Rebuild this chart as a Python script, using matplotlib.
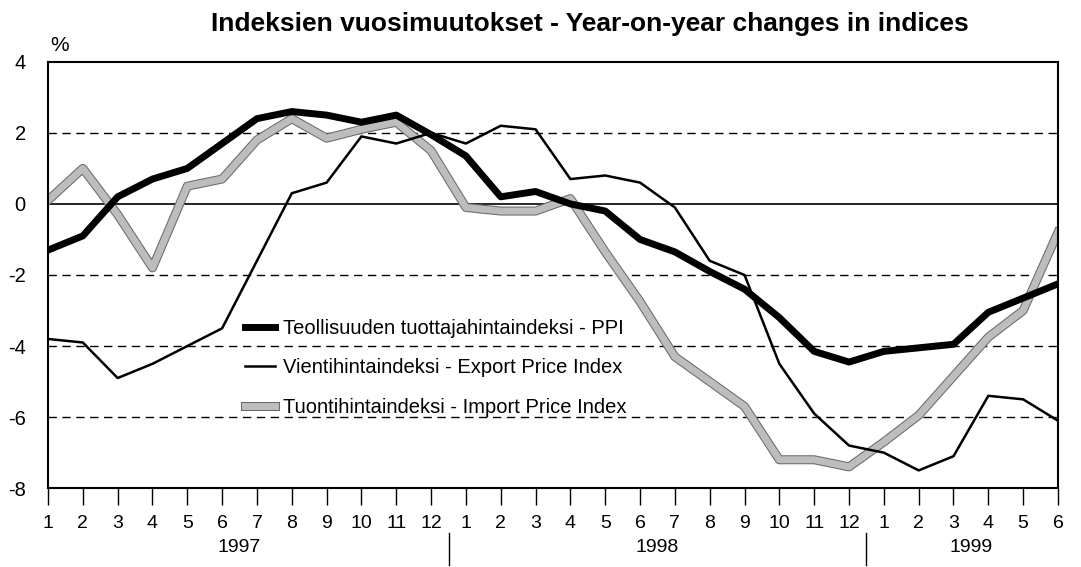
import numpy as np
import matplotlib
matplotlib.use('Agg')
from matplotlib import pyplot as plt
from matplotlib import patheffects as pe

plt.rcParams['font.family'] = ['Liberation Sans', 'DejaVu Sans']
plt.rcParams['axes.unicode_minus'] = False

# monthly data 1997/1 - 1999/6
month_labels = [str(m) for m in range(1, 13)] * 2 + [str(m) for m in range(1, 7)]
years = ['1997', '1998', '1999']
year_months = [12, 12, 6]

ppi = [-1.3, -0.9, 0.2, 0.7, 1.0, 1.7, 2.4, 2.6, 2.5, 2.3, 2.5, 1.95,
       1.35, 0.2, 0.35, 0.0, -0.2, -1.0, -1.35, -1.9, -2.4, -3.2, -4.15, -4.45,
       -4.15, -4.05, -3.95, -3.05, -2.65, -2.25]
export = [-3.8, -3.9, -4.9, -4.5, -4.0, -3.5, -1.6, 0.3, 0.6, 1.9, 1.7, 2.0,
          1.7, 2.2, 2.1, 0.7, 0.8, 0.6, -0.1, -1.6, -2.0, -4.5, -5.9, -6.8,
          -7.0, -7.5, -7.1, -5.4, -5.5, -6.1]
imports = [0.1, 1.0, -0.3, -1.8, 0.5, 0.7, 1.8, 2.4, 1.85, 2.1, 2.3, 1.5,
           -0.1, -0.2, -0.2, 0.15, -1.35, -2.75, -4.3, -5.0, -5.7, -7.2, -7.2, -7.4,
           -6.7, -5.95, -4.85, -3.75, -3.0, -0.8]

labels = ['Teollisuuden tuottajahintaindeksi - PPI',
          'Vientihintaindeksi - Export Price Index',
          'Tuontihintaindeksi - Import Price Index']

x = np.arange(len(month_labels))

fig = plt.figure(figsize=(10.81, 5.67), dpi=100)
ax = fig.add_axes([0.0444, 0.139, 0.9343, 0.752])

for v in [2, -2, -4, -6]:
    ax.axhline(v, color='black', lw=1.0, ls=(0, (6, 4)), zorder=1)
ax.axhline(0, color='black', lw=1.2, zorder=1)

l_imp, = ax.plot(x, imports, color='#bdbdbd', lw=5, zorder=2,
                 path_effects=[pe.Stroke(linewidth=6.5, foreground='#6a6a6a'), pe.Normal()])
l_ppi, = ax.plot(x, ppi, color='black', lw=5, zorder=3)
l_exp, = ax.plot(x, export, color='black', lw=1.8, zorder=4)

ax.set_xlim(x[0], x[-1])
ax.set_ylim(-8, 4)
ax.set_yticks(np.arange(-8, 5, 2))
ax.set_yticklabels([str(v) for v in range(-8, 5, 2)], fontsize=14.5)
ax.tick_params(axis='y', length=0, pad=16)
ax.set_xticks(x)
ax.set_xticklabels(month_labels, fontsize=14)
ax.tick_params(axis='x', direction='out', length=12, width=1, pad=7)
for s in ax.spines.values():
    s.set_linewidth(1.5)

# year labels and separators
start = 0
for yr, n in zip(years, year_months):
    ax.text(start + (n - 1) / 2, -0.14, yr, transform=ax.get_xaxis_transform(),
            ha='center', va='center', fontsize=14)
    if start + n < len(x):
        ax.plot([start + n - 0.5] * 2, [-0.105, -0.18], transform=ax.get_xaxis_transform(),
                color='black', lw=1, clip_on=False)
    start += n

ax.legend([l_ppi, l_exp, l_imp], labels, loc='upper left', bbox_to_anchor=(0.187, 0.415),
          frameon=False, fontsize=14.5, handlelength=1.5, handletextpad=0.4,
          labelspacing=1.0, borderaxespad=0)

fig.text(0.546, 0.958, 'Indeksien vuosimuutokset - Year-on-year changes in indices',
         ha='center', va='center', fontsize=19, fontweight='bold')
fig.text(0.055, 0.92, '%', ha='center', va='center', fontsize=15)

fig.savefig('out.png', dpi=100)
